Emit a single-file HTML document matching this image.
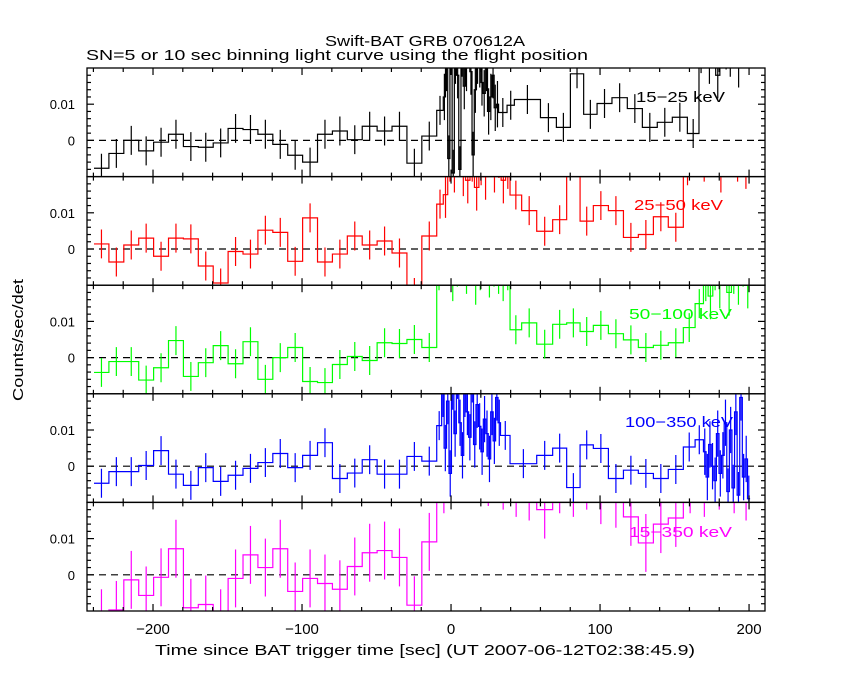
<!DOCTYPE html>
<html><head><meta charset="utf-8"><style>
html,body{margin:0;padding:0;background:#fff}
svg{display:block}
text{font-family:"Liberation Sans",sans-serif}
</style></head><body>
<svg id="chart" width="850" height="680" viewBox="0 0 850 680" xmlns="http://www.w3.org/2000/svg">
<rect x="0" y="0" width="850" height="680" fill="#fff"/>
<text x="425" y="46" font-size="15" text-anchor="middle" textLength="200" lengthAdjust="spacingAndGlyphs">Swift-BAT GRB 070612A</text>
<text x="86" y="60" font-size="15" textLength="502" lengthAdjust="spacingAndGlyphs">SN=5 or 10 sec binning light curve using the flight position</text>
<text x="155" y="655" font-size="15" textLength="540" lengthAdjust="spacingAndGlyphs">Time since BAT trigger time [sec] (UT 2007-06-12T02:38:45.9)</text>
<text x="0" y="0" font-size="15" text-anchor="middle" transform="translate(23,340) rotate(-90)" textLength="122" lengthAdjust="spacingAndGlyphs">Counts/sec/det</text>
<g id="plots"></g>
</svg>
<script>
// ---- data ----
const xTicks = [-200, -100, 0, 100, 200];
const xTickLabels = ["\u2212200", "\u2212100", "0", "100", "200"];
const yTicks = [0, 0.01];
const yTickLabels = ["0", "0.01"];
const bandLabels = ["15\u221225 keV", "25\u221250 keV", "50\u2212100 keV", "100\u2212350 keV", "15\u2212350 keV"];
const bandColors = ["#000000", "#ff0000", "#00ff00", "#0000ff", "#ff00ff"];
const preStart = -239.6, preWidth = 10;

const p1Pre = [-0.0077,-0.0036,0,-0.0029,-0.0005,0.0017,-0.0017,-0.0019,-0.0007,0.0033,0.003,0.0017,-0.0011,-0.0041,-0.006,0.0017,0.0026,0.0002,0.0039,0.0026,0.0039,-0.0063,0.0012];
const p1MidEdges = [-9.6,-5.2];
const p1MidVals = [0.0083];
const p1Fine1Range = [-5.2, 31.9];
const p1Fine1 = [0.012,0.02,-0.005,0.025,-0.009,0.022,0.018,-0.008,0.024,0.015,0.02,0.03,0.019,-0.004,0.014,0.022,0.021,0.016,0.013,0.02,0.008,0.012,0.018,0.009,0.01];
const p1PostEdges = [31.9,37.6,42.5,60,70.7,80.1,89,98,108,118.3,128.4,138.4,148.5,158.6,166.4];
const p1PostVals = [0.0077,0.0097,0.0113,0.0063,0.0036,0.0184,0.0072,0.0102,0.0118,0.0088,0.0036,0.005,0.0064,0.0019];
const p1Fine2Range = [166.4, 200];
const p1Fine2 = [0.025,0.03,0.022,0.028,0.018,0.03,0.026,0.024,0.03,0.021,0.028,0.03];

const p2Pre = [0.0014,-0.0036,0.0011,0.003,-0.002,0.003,0.0028,-0.0047,-0.0094,-0.0007,-0.0014,0.0052,0.0046,-0.0034,0.0086,-0.0036,-0.0014,0.0036,0.0011,0.0022,-0.0011,-0.012,0.0036];
const p2MidEdges = [-9.6,-5.2];
const p2MidVals = [0.0124];
const p2Fine1Range = [-5.2, 39.6];
const p2Fine1 = [0.015,0.025,0.022,0.03,0.021,0.019,0.025,0.017,0.024,0.02,0.028,0.022,0.026,0.019,0.023];
const p2PostEdges = [39.6,47.4,57.5,68.2,77.6,86.6,95.5,105.6,115.7,125.7,135.8,145.8,155.9];
const p2PostVals = [0.0149,0.0106,0.0049,0.0081,0.025,0.0077,0.012,0.0106,0.0032,0.004,0.0089,0.006];
const p2Fine2Range = [155.9, 200.7];
const p2Fine2 = [0.024,0.028,0.025,0.03,0.022,0.027,0.025,0.023];

const p3Pre = [-0.0041,-0.0011,-0.0011,-0.0062,-0.0028,0.0047,-0.0052,-0.0014,0.0033,-0.0017,0.0044,-0.006,0,0.0028,-0.0066,-0.0069,-0.0019,0.0003,-0.0008,0.0041,0.0039,0.005,0.0028];
const p3MidEdges = [];
const p3MidVals = [];
const p3Fine1Range = [-9.6, 39.6];
const p3Fine1 = [0.025,0.028,0.03,0.022,0.026,0.03,0.024,0.027,0.021,0.025,0.028,0.023,0.026,0.024,0.022,0.025];
const p3PostEdges = [39.6,47.4,57.5,68.2,77.6,86.6,95.5,105.6,115.7,125.7,135.8,145.8,155.9,163.8,169.4];
const p3PostVals = [0.0077,0.0096,0.0037,0.0092,0.0096,0.0072,0.0089,0.0066,0.0049,0.0028,0.0034,0.0041,0.0083,0.0149];
const p3Fine2Range = [169.4, 200.7];
const p3Fine2 = [0.022,0.017,0.025,0.02,0.028,0.018,0.024,0.021,0.026,0.02];

const p4Pre = [-0.0047,-0.0015,-0.0015,0.0002,0.0043,-0.0022,-0.0053,-0.0004,-0.0042,-0.0025,-0.0006,0.001,0.0035,-0.0004,0.003,0.0065,-0.0034,-0.0019,0.0018,-0.0022,-0.0022,0.0027,0.0014];
const p4MidEdges = [-9.6,-6.3];
const p4MidVals = [0.0112];
const p4Fine1Range = [-6.3, 33.2];
const p4Fine1 = [0.02,0.005,0.018,-0.002,0.022,0.009,0.025,0.012,0.003,0.02,0.015,0.008,0.024,0.006,0.017,0.011,0.004,0.013,0.009,0.002,0.015,0.007,0.019,0.012];
const p4PostEdges = [33.2,39.6,57.5,68.2,77.6,86.6,95.5,105.6,115.7,125.7,135.8,145.8,155.9,163.8,169.4];
const p4PostVals = [0.0085,0.0007,0.003,0.005,-0.0059,0.0059,0.0049,-0.0034,-0.0011,-0.002,-0.0034,-0.0009,0.0053,0.0073];
const p4Fine2Range = [169.4, 200.7];
const p4Fine2 = [0.004,-0.003,0.006,0,-0.004,0.009,-0.002,0.003,0.012,-0.007,0.01,-0.006,0.015,-0.008,0.019,-0.003,0.002,-0.009];

const p5Pre = [-0.012,-0.0097,-0.0014,-0.0057,-0.0007,0.0072,-0.0091,-0.0082,-0.012,-0.001,0.0055,0.002,0.0072,-0.0046,-0.001,-0.0024,-0.004,0.0023,0.0061,0.0067,0.0048,-0.0084,0.0091];
const p5MidEdges = [];
const p5MidVals = [];
const p5Fine1Range = [-9.6, -9.6];
const p5Fine1 = [];
const p5PostEdges = [-9.6,0,10,20,30,40,47.4,57.5,68.2,77.6,86.6,95.5,105.6,115.7,125.7,135.8,145.8,155.9,165,175,185,195,201];
const p5PostVals = [0.025,0.03,0.028,0.027,0.026,0.024,0.023,0.018,0.025,0.024,0.026,0.022,0.021,0.016,0.0088,0.014,0.0157,0.025,0.024,0.026,0.025,0.023];
const p5Fine2Range = [201, 201];
const p5Fine2 = [];

const panelErrs = [0.004, 0.004, 0.004, 0.004, 0.008];

// ---- layout / axes ----
const L = 87, R = 765, TOP0 = 68, PH = 108.6;
const xMin = -244.3, xMax = 210.7;
const yMin = -0.01, yMax = 0.02;
function xs(t){ return L + (t - xMin) / (xMax - xMin) * (R - L); }
function ys(v, i){ const top = TOP0 + PH * i; return top + (yMax - v) / (yMax - yMin) * PH; }

const NS = "http://www.w3.org/2000/svg";
const root = document.getElementById("plots");
function mk(tag, attrs, parent){ const e = document.createElementNS(NS, tag); for (const k in attrs) e.setAttribute(k, attrs[k]); (parent || root).appendChild(e); return e; }

function segs(pre, midE, midV, f1r, f1, postE, postV, f2r, f2, err){
  const out = [];
  pre.forEach((v, k) => out.push([preStart + k*preWidth, preStart + (k+1)*preWidth, v, err]));
  midV.forEach((v, k) => out.push([midE[k], midE[k+1], v, err]));
  f1.forEach((v, k) => { const w = (f1r[1]-f1r[0])/f1.length; out.push([f1r[0]+k*w, f1r[0]+(k+1)*w, v, err*1.6]); });
  postV.forEach((v, k) => out.push([postE[k], postE[k+1], v, err]));
  f2.forEach((v, k) => { const w = (f2r[1]-f2r[0])/f2.length; out.push([f2r[0]+k*w, f2r[0]+(k+1)*w, v, err*1.6]); });
  return out;
}
const panels = [
  segs(p1Pre,p1MidEdges,p1MidVals,p1Fine1Range,p1Fine1,p1PostEdges,p1PostVals,p1Fine2Range,p1Fine2,panelErrs[0]),
  segs(p2Pre,p2MidEdges,p2MidVals,p2Fine1Range,p2Fine1,p2PostEdges,p2PostVals,p2Fine2Range,p2Fine2,panelErrs[1]),
  segs(p3Pre,p3MidEdges,p3MidVals,p3Fine1Range,p3Fine1,p3PostEdges,p3PostVals,p3Fine2Range,p3Fine2,panelErrs[2]),
  segs(p4Pre,p4MidEdges,p4MidVals,p4Fine1Range,p4Fine1,p4PostEdges,p4PostVals,p4Fine2Range,p4Fine2,panelErrs[3]),
  segs(p5Pre,p5MidEdges,p5MidVals,p5Fine1Range,p5Fine1,p5PostEdges,p5PostVals,p5Fine2Range,p5Fine2,panelErrs[4])
];
const bandNames = ["15-25-kev","25-50-kev","50-100-kev","100-350-kev","15-350-kev"];

const defs = mk("defs", {});
panels.forEach((bins, i) => {
  const top = TOP0 + PH*i, bot = top + PH;
  const cp = mk("clipPath", {id: "cp"+i}, defs);
  mk("rect", {x: L, y: top, width: R-L, height: PH}, cp);
  const g = mk("g", {}, root);
  
  
  const z = mk("line", {x1: L, x2: R, y1: ys(0,i), y2: ys(0,i), stroke: "#000", "stroke-width": 1.2, "stroke-dasharray": "7,5"}, g);
  
  
  const sg = mk("g", {"clip-path": "url(#cp"+i+")"}, g);
  
  
  let d = "";
  bins.forEach((b, k) => {
    const x0 = xs(b[0]), x1 = xs(b[1]), yv = ys(b[2], i);
    if (k === 0) d += "M" + x0 + "," + yv; else d += "L" + x0 + "," + yv;
    d += "L" + x1 + "," + yv;
  });
  const p = mk("path", {d: d, fill: "none", stroke: bandColors[i], "stroke-width": 1.2}, sg);
  
  
  bins.forEach((b) => {
    const xc = xs((b[0]+b[1])/2);
    const e = mk("line", {x1: xc, x2: xc, y1: ys(b[2]+b[3], i), y2: ys(b[2]-b[3], i), stroke: bandColors[i], "stroke-width": 1.2}, sg);
    
    
  });
  const fr = mk("rect", {x: L, y: top, width: R-L, height: PH, fill: "none", stroke: "#000", "stroke-width": 1.3}, g);
  
  
  for (let t = -240; t <= 200; t += 20) {
    const major = (t % 100 === 0);
    const len = major ? 7 : 4;
    const x = xs(t);
    mk("line", {x1: x, x2: x, y1: top, y2: top+len, stroke: "#000", "stroke-width": 1.2}, g);
    mk("line", {x1: x, x2: x, y1: bot, y2: bot-len, stroke: "#000", "stroke-width": 1.2}, g);
  }
  for (let v = -0.008; v < 0.0195; v += 0.002) {
    const major = Math.abs(v) < 1e-6 || Math.abs(v-0.01) < 1e-6;
    const len = major ? 7 : 4;
    const y = ys(v, i);
    mk("line", {x1: L, x2: L+len, y1: y, y2: y, stroke: "#000", "stroke-width": 1.2}, g);
    mk("line", {x1: R, x2: R-len, y1: y, y2: y, stroke: "#000", "stroke-width": 1.2}, g);
  }
  yTicks.forEach((v, k) => {
    const t = mk("text", {x: 75, y: ys(v,i)+5, "font-size": 13, "text-anchor": "end"}, g);
    t.textContent = yTickLabels[k];
    
    
  });
  const lb = mk("text", {x: i === 3 ? 625 : (i === 1 ? 634 : (i === 0 ? 636 : 629)), y: [102,210,319,427,537][i], "font-size": 15, fill: bandColors[i], textLength: i===3 ? 108 : (i===2||i===4 ? 103 : 89), lengthAdjust: "spacingAndGlyphs"}, g);
  lb.textContent = bandLabels[i];
  
  
});
xTicks.forEach((t, k) => {
  const tx = mk("text", {x: xs(t), y: 634, "font-size": 15, "text-anchor": "middle"});
  tx.textContent = xTickLabels[k];
  
  
});
</script>
</body></html>
